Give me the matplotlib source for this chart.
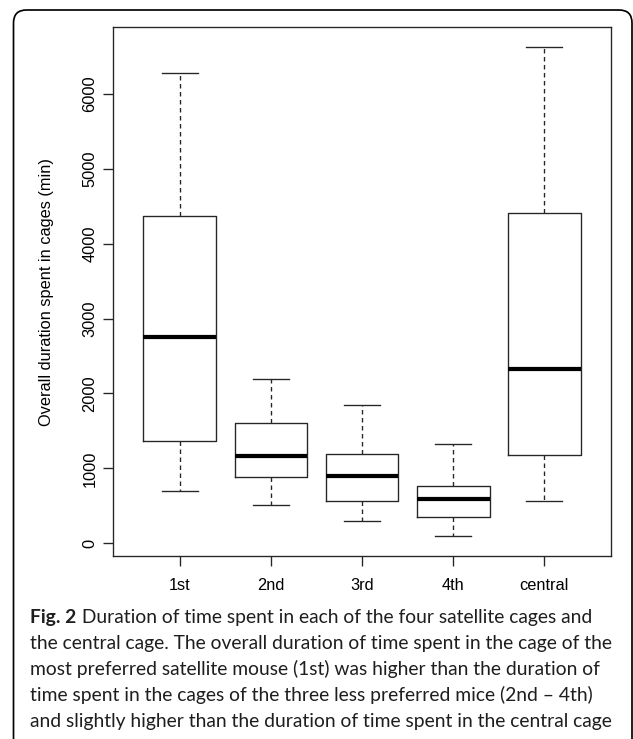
import matplotlib
matplotlib.use("Agg")
import matplotlib.pyplot as plt
from matplotlib.patches import FancyBboxPatch
from matplotlib.transforms import IdentityTransform

# ---------------- data ----------------
categories = ["1st", "2nd", "3rd", "4th", "central"]
whisker_low = [698, 516, 296, 91, 564]
q1 = [1360, 882, 564, 346, 1177]
median = [2749, 1168, 895, 587, 2326]
q3 = [4377, 1610, 1186, 766, 4408]
whisker_high = [6280, 2196, 1847, 1329, 6629]
y_ticks = [0, 1000, 2000, 3000, 4000, 5000, 6000]
y_label = "Overall duration spent in cages (min)"
caption_bold = "Fig. 2"
caption_lines = [
    " Duration of time spent in each of the four satellite cages and",
    "the central cage. The overall duration of time spent in the cage of the",
    "most preferred satellite mouse (1st) was higher than the duration of",
    "time spent in the cages of the three less preferred mice (2nd \u2013 4th)",
    "and slightly higher than the duration of time spent in the central cage",
]

# ---------------- layout ----------------
W, H, DPI = 633, 739, 100
PT = 72.0 / DPI  # points per pixel
plt.rcParams["lines.scale_dashes"] = False
plt.rcParams["font.family"] = ["Liberation Sans", "DejaVu Sans"]

fig = plt.figure(figsize=(W / DPI, H / DPI), dpi=DPI)
fig.patch.set_facecolor("white")

ax_l, ax_r, ax_t, ax_b = 112.5, 610.7, 27.3, 556.0
ax = fig.add_axes([ax_l / W, 1 - ax_b / H, (ax_r - ax_l) / W, (ax_b - ax_t) / H])

line_col = "#262626"
lw = 1.35 * PT
stats = []
for c, lo, a, m, b, hi in zip(categories, whisker_low, q1, median, q3, whisker_high):
    stats.append(dict(label=c, whislo=lo, q1=a, med=m, q3=b, whishi=hi, fliers=[]))

positions = list(range(1, len(categories) + 1))
ax.bxp(stats, positions=positions, widths=0.8, capwidths=0.4, showfliers=False,
       boxprops=dict(color=line_col, linewidth=lw),
       whiskerprops=dict(color=line_col, linewidth=lw, linestyle=(0, (4.5 * PT, 3.5 * PT))),
       capprops=dict(color=line_col, linewidth=lw),
       medianprops=dict(color="black", linewidth=4.2 * PT, solid_capstyle="butt"))

# R-style axis range: data range extended by 4%
lo_all, hi_all = min(whisker_low), max(whisker_high)
rng = hi_all - lo_all
ax.set_ylim(lo_all - 0.04 * rng, hi_all + 0.04 * rng)
ax.set_xlim(0.26, 5.73)

ax.set_yticks(y_ticks)
ax.set_yticklabels([str(t) for t in y_ticks])
ax.set_xticks(positions)
ax.set_xticklabels(categories)

fs = 16.4 * PT
for s in ax.spines.values():
    s.set_color(line_col)
    s.set_linewidth(lw)
ax.tick_params(axis="both", direction="out", length=10 * PT, width=lw, color=line_col,
               labelsize=fs, labelcolor="black")
ax.tick_params(axis="x", pad=8.4)
ax.tick_params(axis="y", pad=3.6)
for lbl in ax.get_yticklabels():
    lbl.set_rotation(90)
    lbl.set_va("center")
    lbl.set_ha("right")

ax.set_ylabel(y_label, fontsize=fs, color="black")
ax.yaxis.label.set_va("center")
ax.yaxis.set_label_coords((46.7 - ax_l) / (ax_r - ax_l), 0.5)

# ---------------- border ----------------
border = FancyBboxPatch((13.5, -30), 632.0 - 13.5, (H - 10) + 30,
                        boxstyle="round,pad=0,rounding_size=13",
                        transform=IdentityTransform(), fill=False,
                        edgecolor="black", linewidth=1.7 * PT, zorder=0)
fig.patches.append(border)

# ---------------- caption ----------------
cap_font = ["Lato", "DejaVu Sans"]
cap_col = "#1e1e1e"
cap_x = 30.5
base0, step = 622.6, 26.2
targets = [613 - cap_x, 607.7 - cap_x, 594 - cap_x, 589 - cap_x, 613 - cap_x]

renderer = fig.canvas.get_renderer()
trial = 12.0
tb = fig.text(0, 0, caption_bold, fontsize=trial, family=cap_font, fontweight="bold")
widths = []
for i, s in enumerate(caption_lines):
    t = fig.text(0, 0, s, fontsize=trial, family=cap_font)
    w = t.get_window_extent(renderer).width
    if i == 0:
        w += tb.get_window_extent(renderer).width
    widths.append(w)
    t.remove()
tb.remove()
scale = sum(targets) / sum(widths)
cap_fs = trial * scale

for i, s in enumerate(caption_lines):
    yb = 1 - (base0 + i * step) / H
    x = cap_x
    if i == 0:
        tb = fig.text(x / W, yb, caption_bold, fontsize=cap_fs, family=cap_font,
                      fontweight="bold", color=cap_col, va="baseline", ha="left")
        x += tb.get_window_extent(renderer).width
    fig.text(x / W, yb, s, fontsize=cap_fs, family=cap_font, color=cap_col,
             va="baseline", ha="left")

fig.savefig("out.png", dpi=DPI, facecolor="white")
